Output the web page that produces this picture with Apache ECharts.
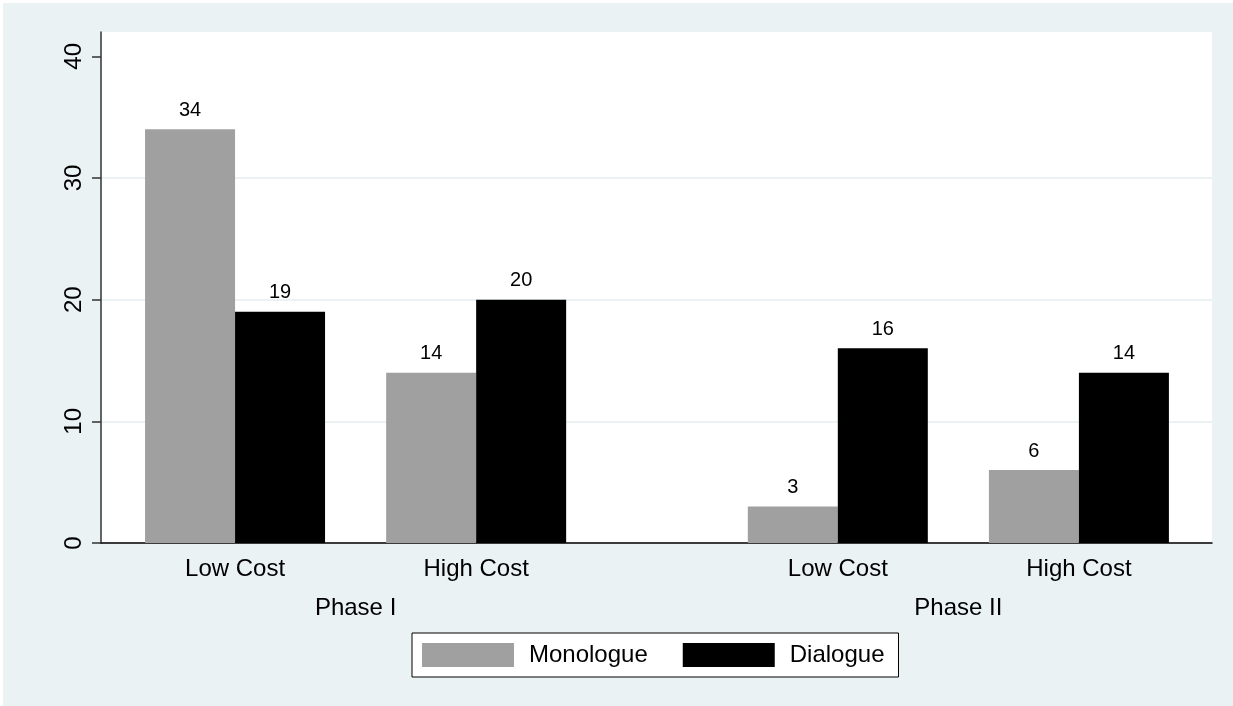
<!DOCTYPE html>
<html>
<head>
<meta charset="utf-8">
<script src="https://cdn.jsdelivr.net/npm/echarts@6/dist/echarts.min.js"></script>
<style>
  html, body { margin: 0; padding: 0; background: #fff; }
  #main { position: absolute; left: 3px; top: 3px; width: 1230px; height: 703px; }
</style>
</head>
<body>
<div id="main"></div>
<script>
// data
var costLabels = ['Low Cost', 'High Cost', 'Low Cost', 'High Cost'];
var phaseLabels = ['Phase I', 'Phase II'];
var monologue = [34, 14, 3, 6];
var dialogue = [19, 20, 16, 14];
var yTicks = [0, 10, 20, 30, 40];

// where each group sits on the x scale (phase gap is wider)
var slots = [1, 2, 3.5, 4.5];
var phaseSlots = [1.5, 4];

var font = 'Liberation Sans, Arial, sans-serif';

function pairs(vals) {
    return vals.map(function (v, i) { return [slots[i], v]; });
}

var myChart = echarts.init(document.getElementById('main'));

var option = {
    backgroundColor: '#eaf2f3',
    animation: false,
    textStyle: { fontFamily: font },
    grid: {
        left: 98, right: 21, top: 29, bottom: 163,
        show: true, backgroundColor: '#fff', borderWidth: 0
    },
    legend: {
        left: 409, top: 630,
        padding: [10, 14, 10, 10],
        itemWidth: 92, itemHeight: 24, itemGap: 35,
        backgroundColor: '#fff', borderColor: '#000', borderWidth: 1,
        icon: 'rect',
        textStyle: { fontSize: 24, color: '#000', fontFamily: font, padding: [0, 0, 0, 10] },
        data: ['Monologue', 'Dialogue']
    },
    xAxis: [{
        type: 'value', min: 0.444, max: 5.052, position: 'bottom',
        axisLine: { show: true, onZero: false, lineStyle: { color: '#000', width: 1.5 } },
        axisTick: { show: false },
        splitLine: { show: false },
        axisLabel: {
            customValues: slots,
            fontSize: 24, color: '#000', margin: 14,
            formatter: function (v) {
                var i = slots.indexOf(v);
                return i >= 0 ? costLabels[i] : '';
            }
        }
    }, {
        type: 'value', min: 0.444, max: 5.052, position: 'bottom',
        axisLine: { show: false },
        axisTick: { show: false },
        splitLine: { show: false },
        axisLabel: {
            customValues: phaseSlots,
            fontSize: 24, color: '#000', margin: 53,
            formatter: function (v) {
                var i = phaseSlots.indexOf(v);
                return i >= 0 ? phaseLabels[i] : '';
            }
        }
    }],
    yAxis: {
        type: 'value', min: 0, max: 42, interval: 10,
        axisLine: { show: true, lineStyle: { color: '#333', width: 1.5 } },
        axisTick: { show: true, length: 9, customValues: yTicks, lineStyle: { color: '#333', width: 1.5 } },
        axisLabel: { customValues: yTicks, rotate: 90, fontSize: 24, color: '#000', margin: 15 },
        splitLine: {
            show: true,
            lineStyle: { color: ['#e3eef0', '#e3eef0', '#e3eef0', '#e3eef0', 'rgba(0,0,0,0)'], width: 1.5 }
        }
    },
    series: [{
        name: 'Monologue', type: 'bar',
        data: pairs(monologue),
        barWidth: 90, barGap: '0%',
        itemStyle: { color: '#a0a0a0' },
        label: { show: true, position: 'top', distance: 9, fontSize: 20, color: '#000' }
    }, {
        name: 'Dialogue', type: 'bar',
        data: pairs(dialogue),
        barWidth: 90, barGap: '0%',
        itemStyle: { color: '#000' },
        label: { show: true, position: 'top', distance: 9, fontSize: 20, color: '#000' }
    }]
};

myChart.setOption(option);
</script>
</body>
</html>
